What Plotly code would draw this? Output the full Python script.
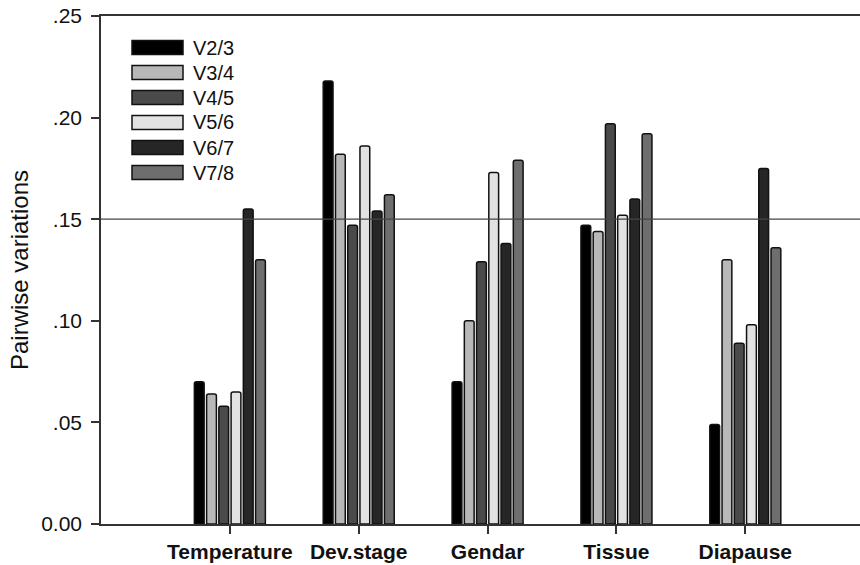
import plotly.graph_objects as go

categories = ["Temperature", "Dev.stage", "Gendar", "Tissue", "Diapause"]
series_names = ["V2/3", "V3/4", "V4/5", "V5/6", "V6/7", "V7/8"]
v23 = [0.070, 0.218, 0.070, 0.147, 0.049]
v34 = [0.064, 0.182, 0.100, 0.144, 0.130]
v45 = [0.058, 0.147, 0.129, 0.197, 0.089]
v56 = [0.065, 0.186, 0.173, 0.152, 0.098]
v67 = [0.155, 0.154, 0.138, 0.160, 0.175]
v78 = [0.130, 0.162, 0.179, 0.192, 0.136]
series_values = [v23, v34, v45, v56, v67, v78]
colors = ["#000000", "#b8b8b8", "#4a4a4a", "#e2e2e2", "#262626", "#6e6e6e"]

y_tickvals = [0.0, 0.05, 0.10, 0.15, 0.20, 0.25]
y_ticktext = ["0.00", ".05", ".10", ".15", ".20", ".25"]
ref_line = 0.15

x_pos = list(range(len(categories)))

fig = go.Figure()
for name, vals, col in zip(series_names, series_values, colors):
    fig.add_trace(go.Bar(
        x=x_pos, y=vals, name=name,
        marker=dict(color=col, line=dict(color="#111111", width=1.5), cornerradius=2),
        showlegend=False,
    ))

# custom legend (large swatches like the original)
L, W, B, H = 101, 759, 524, 508
def px(xp):
    return (xp - L) / W
def py(yp):
    return (B - yp) / H

shapes = []
annotations = []
for i, (name, col) in enumerate(zip(series_names, colors)):
    cy = 47.5 + 25 * i
    shapes.append(dict(type="rect", xref="paper", yref="paper",
                       x0=px(132), x1=px(183), y0=py(cy + 7), y1=py(cy - 7),
                       fillcolor=col, line=dict(color="#111111", width=1.5)))
    annotations.append(dict(xref="paper", yref="paper", x=px(191), y=py(cy),
                            text=name, showarrow=False, xanchor="left", yanchor="middle",
                            font=dict(size=20, color="#111111", family="Liberation Sans, Arial")))

shapes.append(dict(type="line", xref="paper", yref="y", x0=0, x1=1,
                   y0=ref_line, y1=ref_line, line=dict(color="#444444", width=1.2)))

fig.update_layout(
    width=860, height=565,
    margin=dict(l=101, r=0, t=16, b=41),
    paper_bgcolor="white", plot_bgcolor="white",
    barmode="group", bargap=0.43, bargroupgap=0.2,
    shapes=shapes, annotations=annotations,
    font=dict(family="Liberation Sans, Arial", color="#111111"),
    xaxis=dict(
        range=[-1.0, 4.89], tickmode="array", tickvals=x_pos, ticktext=categories,
        showline=True, linecolor="#333333", linewidth=1.5, mirror=True,
        ticks="outside", ticklen=8, tickwidth=1.5, tickcolor="#333333",
        showgrid=False, zeroline=False,
        tickfont=dict(size=21, family="Liberation Sans, Arial", color="#111111", weight="bold"),
    ),
    yaxis=dict(
        range=[0, 0.25], tickmode="array", tickvals=y_tickvals, ticktext=y_ticktext,
        showline=True, linecolor="#333333", linewidth=1.5,
        ticks="outside", ticklen=8, tickwidth=1.5, tickcolor="#333333",
        showgrid=False, zeroline=False, ticklabelstandoff=5,
        tickfont=dict(size=21, color="#111111"),
        title=dict(text="Pairwise variations", font=dict(size=24, color="#111111"), standoff=6),
    ),
)

fig.write_html("out.html", config={"displayModeBar": False},
               post_script="document.body.style.margin='0';document.body.style.overflow='hidden';")
